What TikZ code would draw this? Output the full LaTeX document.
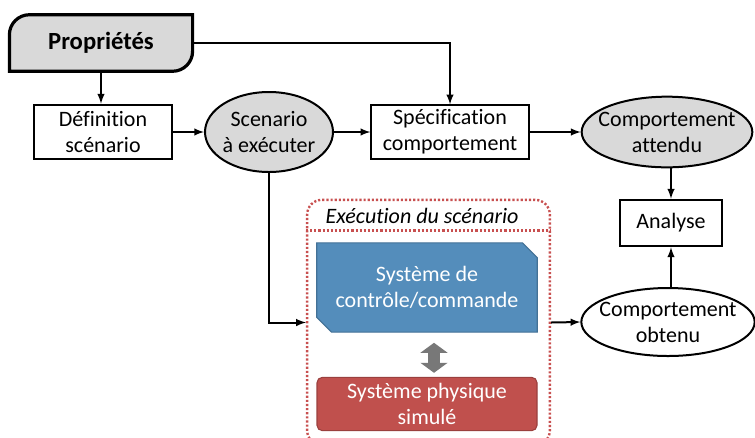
\documentclass[tikz,border=0pt]{standalone}
\usepackage{fontspec}
\setmainfont[Ligatures=NoCommon]{Carlito}
\usepackage{tikz}
\usetikzlibrary{shapes.geometric}
\usetikzlibrary{arrows.meta}
\usetikzlibrary{backgrounds}
\tikzset{>=latex}

\definecolor{fondgris}{RGB}{217,217,217}
\definecolor{ctrlbleu}{RGB}{84,141,187}
\definecolor{physrouge}{RGB}{192,80,77}
\definecolor{pointrouge}{RGB}{200,80,80}
\definecolor{flechegris}{RGB}{120,120,120}

\begin{document}
\begin{tikzpicture}[x=0.75pt, y=-0.75pt,
    every node/.style={font=\fontsize{16.5}{19.5}\selectfont, align=center},
    boite/.style={draw, line width=1.5pt, inner sep=0pt},
    bulle/.style={ellipse, draw, line width=1.5pt, inner sep=0pt},
    fleche/.style={->, line width=1.5pt},
    pointille/.style={draw=pointrouge, line width=1.8pt, dash pattern=on 1.6pt off 1.5pt}]
    \useasboundingbox (0,0) rectangle (755,437);

    % proprietes
    \node[minimum width=137pt, minimum height=42pt, font=\fontsize{18.5}{22}\selectfont\bfseries] (propr) at (101,43) {Propriétés};
    \begin{scope}[on background layer]
    \filldraw[fill=fondgris, line width=2.4pt] (propr.south west) -- ([yshift=-15pt]propr.north west)
        arc[start angle=180, end angle=90, radius=15pt] -- (propr.north east)
        -- ([yshift=15pt]propr.south east) arc[start angle=0, end angle=-90, radius=15pt] -- cycle;
    \end{scope}

    \node[boite, minimum width=103.5pt, minimum height=41pt] (def) at (103,132) {Définition\\scénario};
    \node[bulle, fill=fondgris, minimum width=96pt, minimum height=60pt,
        label={center:Scenario\\à exécuter}] (scen) at (269,132) {};
    \node[boite, minimum width=118pt, minimum height=40pt] (spec) at (450,132) {Spécification\\comportement};
    \node[bulle, fill=fondgris, minimum width=128pt, minimum height=53pt,
        label={center:Comportement\\attendu}] (attendu) at (667,132) {};
    \node[boite, minimum width=77pt, minimum height=35pt] (analyse) at (671,223) {Analyse};
    \node[bulle, minimum width=130pt, minimum height=51pt,
        label={center:Comportement\\obtenu}] (obtenu) at (668,322) {};

    % execution du scenario
    \node[pointille, rounded corners=11pt, minimum width=182pt, minimum height=184pt] (exec) at (428.5,322.5) {};
    \draw[pointille] ([yshift=-24pt]exec.north west) -- ([yshift=-24pt]exec.north east);
    \node (titre) at (422,216) {\itshape Exécution du scénario};

    \node[text=white, minimum width=165pt, minimum height=66.5pt] (ctrl) at (427,287.5) {Système de\\contrôle/commande};
    \begin{scope}[on background layer]
    \filldraw[fill=ctrlbleu, draw=ctrlbleu!80!black, line width=0.8pt] (ctrl.north west)
        -- ([xshift=-11pt]ctrl.north east) -- ([yshift=-11pt]ctrl.north east) -- (ctrl.south east)
        -- ([xshift=11pt]ctrl.south west) -- ([yshift=11pt]ctrl.south west) -- cycle;
    \end{scope}
    \node[text=white, fill=physrouge, draw=physrouge!80!black, line width=0.8pt, rounded corners=4pt,
        minimum width=165pt, minimum height=40pt] (phys) at (427,404) {Système physique\\simulé};

    \draw[flechegris, line width=9pt, {Triangle[width=20pt,length=7.5pt]}-{Triangle[width=20pt,length=7.5pt]},
        shorten <=8pt, shorten >=3pt] (ctrl.south -| 434,0) -- (phys.north -| 434,0);

    % connecteurs
    \draw[fleche] (propr.south) -- (propr.south |- def.north);
    \draw[fleche] (def.east) -- (scen.west);
    \draw[fleche] (scen.east) -- (spec.west);
    \draw[fleche] (propr.east) -| (spec.north);
    \draw[fleche] (spec.east) -- (attendu.west);
    \draw[fleche] (analyse.north |- attendu.south) -- (analyse.north);
    \draw[fleche] (analyse.south |- obtenu.north) -- (analyse.south);
    \draw[fleche] (scen.south) |- (exec.west);
    \draw[fleche] (exec.east) -- (obtenu.west);
\end{tikzpicture}
\end{document}
